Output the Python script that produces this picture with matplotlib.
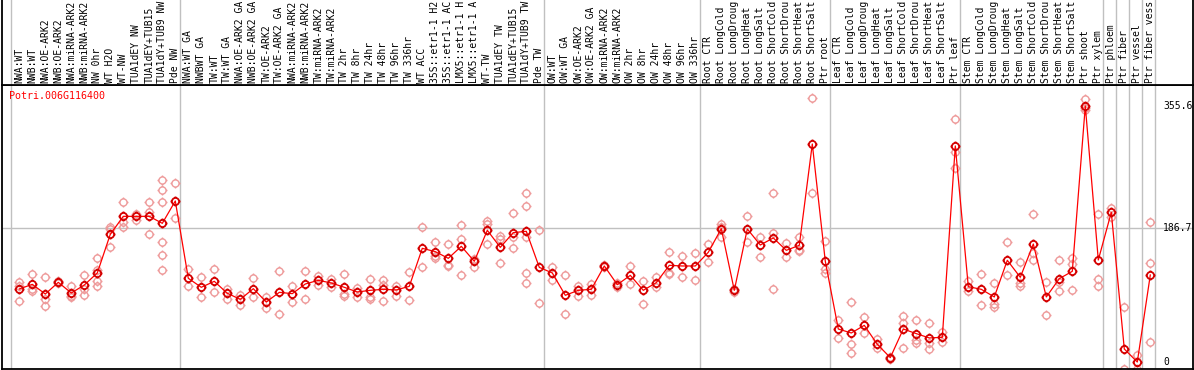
import numpy as np
import matplotlib
matplotlib.use("Agg")
import matplotlib.pyplot as plt
from matplotlib.path import Path
from matplotlib.transforms import blended_transform_factory

title = "Potri.006G116400"

# labels as they show in the header (long ones are cut there)
labels = [
    "NWA:WT", "NWB:WT", "NWA:OE-ARK2", "NWB:OE-ARK2", "NWA:miRNA-ARK2",
    "NWB:miRNA-ARK2", "NW 0hr", "WT H2O", "WT-NW", "TUA1dEY NW",
    "TUA1dEY+TUB15", "TUA1dY+TUB9 NW", "Pde NW",
    "NWA:WT GA", "NWBWT GA", "TW:WT", "TW:WT GA", "NWA:OE-ARK2 GA",
    "NWB:OE-ARK2 GA", "TW:OE-ARK2", "TW:OE-ARK2 GA", "NWA:miRNA-ARK2",
    "NWB:miRNA-ARK2", "TW:miRNA-ARK2", "TW:miRNA-ARK2", "TW 2hr", "TW 8hr",
    "TW 24hr", "TW 48hr", "TW 96hr", "TW 336hr", "WT ACC", "35S::etr1-1 H2",
    "35S::etr1-1 AC", "LMX5::etr1-1 H", "LMX5::etr1-1 A", "WT-TW",
    "TUA1dEY TW", "TUA1dEY+TUB15", "TUA1dY+TUB9 TW", "Pde TW",
    "OW:WT", "OW:WT GA", "OW:OE-ARK2", "OW:OE-ARK2 GA", "OW:miRNA-ARK2",
    "OW:miRNA-ARK2", "OW 2hr", "OW 8hr", "OW 24hr", "OW 48hr", "OW 96hr",
    "OW 336hr",
    "Root CTR", "Root LongCold", "Root LongDroug", "Root LongHeat",
    "Root LongSalt", "Root ShortCold", "Root ShortDrou", "Root ShortHeat",
    "Root ShortSalt", "Ptr root",
    "Leaf CTR", "Leaf LongCold", "Leaf LongDroug", "Leaf LongHeat",
    "Leaf LongSalt", "Leaf ShortCold", "Leaf ShortDrou", "Leaf ShortHeat",
    "Leaf ShortSalt", "Ptr leaf",
    "Stem CTR", "Stem LongCold", "Stem LongDroug", "Stem LongHeat",
    "Stem LongSalt", "Stem ShortCold", "Stem ShortDrou", "Stem ShortHeat",
    "Stem ShortSalt", "Ptr shoot", "Ptr xylem",
    "Ptr phloem", "Ptr fiber", "Ptr vessel", "Ptr fiber vess",
]

group_sizes = [13, 28, 12, 10, 10, 11, 1, 1, 1, 1]

means = [
    101.6, 108.0, 94.6, 110.8, 96.0, 107.1, 123.8, 177.5, 202.4, 202.4,
    202.4, 192.7, 223.7, 116.4, 103.9, 112.2, 95.6, 87.2, 102.0, 83.5,
    96.9, 95.1, 108.5, 113.6, 109.9, 103.9, 97.4, 99.7, 101.1, 100.2,
    105.3, 158.0, 153.4, 144.1, 160.8, 140.0, 183.0, 159.4, 179.8, 181.6,
    131.6, 123.8, 92.8, 99.7, 101.1, 133.5, 107.6, 120.5, 99.7, 110.4,
    134.4, 133.5, 133.5, 152.5, 185.3, 99.7, 184.9, 162.6, 172.4, 155.2,
    162.2, 302.8, 140.0, 46.0, 40.5, 51.1, 24.8, 6.3, 46.0, 39.6,
    33.6, 34.5, 300.1, 104.8, 101.1, 90.5, 141.4, 117.8, 164.0, 90.5,
    115.9, 126.1, 355.6, 141.8, 208.0, 18.3, 0.2, 121.0,
]

reps = [
    [111.8, 106.2, 84.9], [122.4, 101.1, 98.3], [118.2, 88.1, 77.5],
    [112.2, 109.4], [105.3, 91.9, 90.0], [120.5, 101.6, 93.2],
    [144.1, 128.0, 112.7, 106.2], [187.6, 185.3, 159.4],
    [222.8, 194.6, 188.1], [205.7, 197.8], [221.9, 208.5, 177.5],
    [252.4, 238.5, 221.9, 167.3, 148.3, 127.5], [248.2, 199.7],
    [129.3, 105.3], [117.8, 90.0], [129.3, 97.9], [101.6, 87.7],
    [93.7, 79.8], [116.4, 90.0], [90.9, 74.7], [126.1, 66.9],
    [105.7, 83.0], [126.1, 88.1], [119.6, 107.1], [115.4, 103.9],
    [121.9, 95.1, 91.9], [103.0, 90.5], [115.0, 90.9, 87.7],
    [113.6, 106.7, 84.4], [106.2, 92.3], [124.7, 85.8], [187.6, 131.6],
    [166.3, 147.4, 144.1], [163.6, 135.3, 133.0], [190.9, 170.5, 120.5],
    [143.7, 132.6], [196.4, 191.8, 163.6], [175.6, 170.5, 137.7],
    [206.6, 174.2, 158.0], [234.8, 216.3, 174.2, 123.3, 110.4],
    [183.5, 81.7], [131.6, 114.0], [121.0, 66.9], [105.7, 91.9],
    [109.0, 92.8], [134.9, 132.1], [110.4, 104.8], [133.5, 108.5],
    [112.7, 80.3], [118.7, 104.8], [152.5, 124.2, 122.4], [147.4, 117.8],
    [151.5, 113.6], [164.0, 139.5], [191.3, 188.1, 174.2], [102.0, 96.9],
    [202.9, 167.3], [174.2, 145.5], [234.4, 178.8, 101.1], [164.9, 145.5],
    [173.7, 155.2, 153.9], [366.2, 234.8], [168.2, 128.9, 123.3],
    [58.5, 33.1], [83.1, 24.8, 12.3], [62.2, 40.0], [31.7, 19.2],
    [7.5, 5.0], [64.1, 53.9, 19.7], [58.1, 30.8, 27.1],
    [53.9, 26.2, 18.7], [41.9, 27.5], [337.1, 292.2, 269.1],
    [113.1, 98.3], [121.9, 79.4], [109.4, 80.3, 76.1], [166.3, 120.5],
    [138.6, 109.4, 105.7], [205.2, 151.1, 141.8], [110.8, 65.5],
    [141.4, 111.3, 98.3], [145.1, 136.7, 99.7], [364.8, 352.4, 350.0],
    [205.2, 115.0, 105.7], [214.5, 201.5], [76.1, -10.0], [10.0, -10.0],
    [194.1, 137.2, 27.5],
]

ytick_values = [355.6, 186.7, 0]

W, H = 1194, 370
MONO = "DejaVu Sans Mono"


def ring_marker():
    # circle with four little ticks, like the old pixel markers
    circ = Path.unit_circle()
    r0, r1 = 1.0, 1.4
    ticks = Path(
        [(0, r0), (0, r1), (0, -r0), (0, -r1), (r0, 0), (r1, 0), (-r0, 0), (-r1, 0)],
        [Path.MOVETO, Path.LINETO] * 4,
    )
    return Path.make_compound_path(circ, ticks)


def plot_chart():
    fig = plt.figure(figsize=(W / 100, H / 100), dpi=100)

    # pixel layout
    x_left, x_right = 1.5, 1192.7
    y_head, y_bot = 85.0, 368.5
    ax = fig.add_axes([x_left / W, (H - y_bot) / H,
                       (x_right - x_left) / W, (y_bot - y_head) / H])
    head = fig.add_axes([x_left / W, (H - y_head) / H,
                         (x_right - x_left) / W, y_head / H + 0.01], sharex=ax)

    x = np.arange(len(means))
    ax.set_xlim((x_left - 19.3) / 13, (x_right - 19.3) / 13)
    ax.set_ylim(-8.8, 384.7)

    edges = np.concatenate([[0], np.cumsum(group_sizes)]) - 0.66
    for a in (ax, head):
        for e in edges:
            a.axvline(e, color="#c0c0c0", lw=1, zorder=0)
        a.set_xticks([])
        a.set_yticks([])
        for s in a.spines.values():
            s.set_color("black")
            s.set_linewidth(1.3)
    head.spines["top"].set_visible(False)
    head.set_ylim(0, 1)
    ax.axhline(186.7, color="#c0c0c0", lw=1, zorder=0)

    mk = ring_marker()
    rx = [i for i, r in enumerate(reps) for _ in r]
    ry = [v for r in reps for v in r]
    ax.plot(rx, ry, ls="none", marker=mk, ms=7.2, mfc="none",
            mec="#ee9a9a", mew=1.0, zorder=2)
    ax.plot(x, means, color="red", lw=0.9, marker=mk, ms=7.2, mfc="none",
            mec="#d40000", mew=1.3, zorder=3)

    trans = blended_transform_factory(head.transData, head.transAxes)
    for i, lab in enumerate(labels):
        head.text(i, 0.025, lab, rotation=90, ha="center", va="bottom",
                  fontsize=7, family=MONO, transform=trans)

    for v in ytick_values:
        ax.text(87.98, v, f"{v:g}", ha="left", va="center",
                fontsize=7, family=MONO)

    ax.text(-0.77, 369.5, title, color="red", ha="left", va="center",
            fontsize=7.2, family=MONO)

    fig.savefig("out.png", dpi=100)


if __name__ == "__main__":
    plot_chart()
